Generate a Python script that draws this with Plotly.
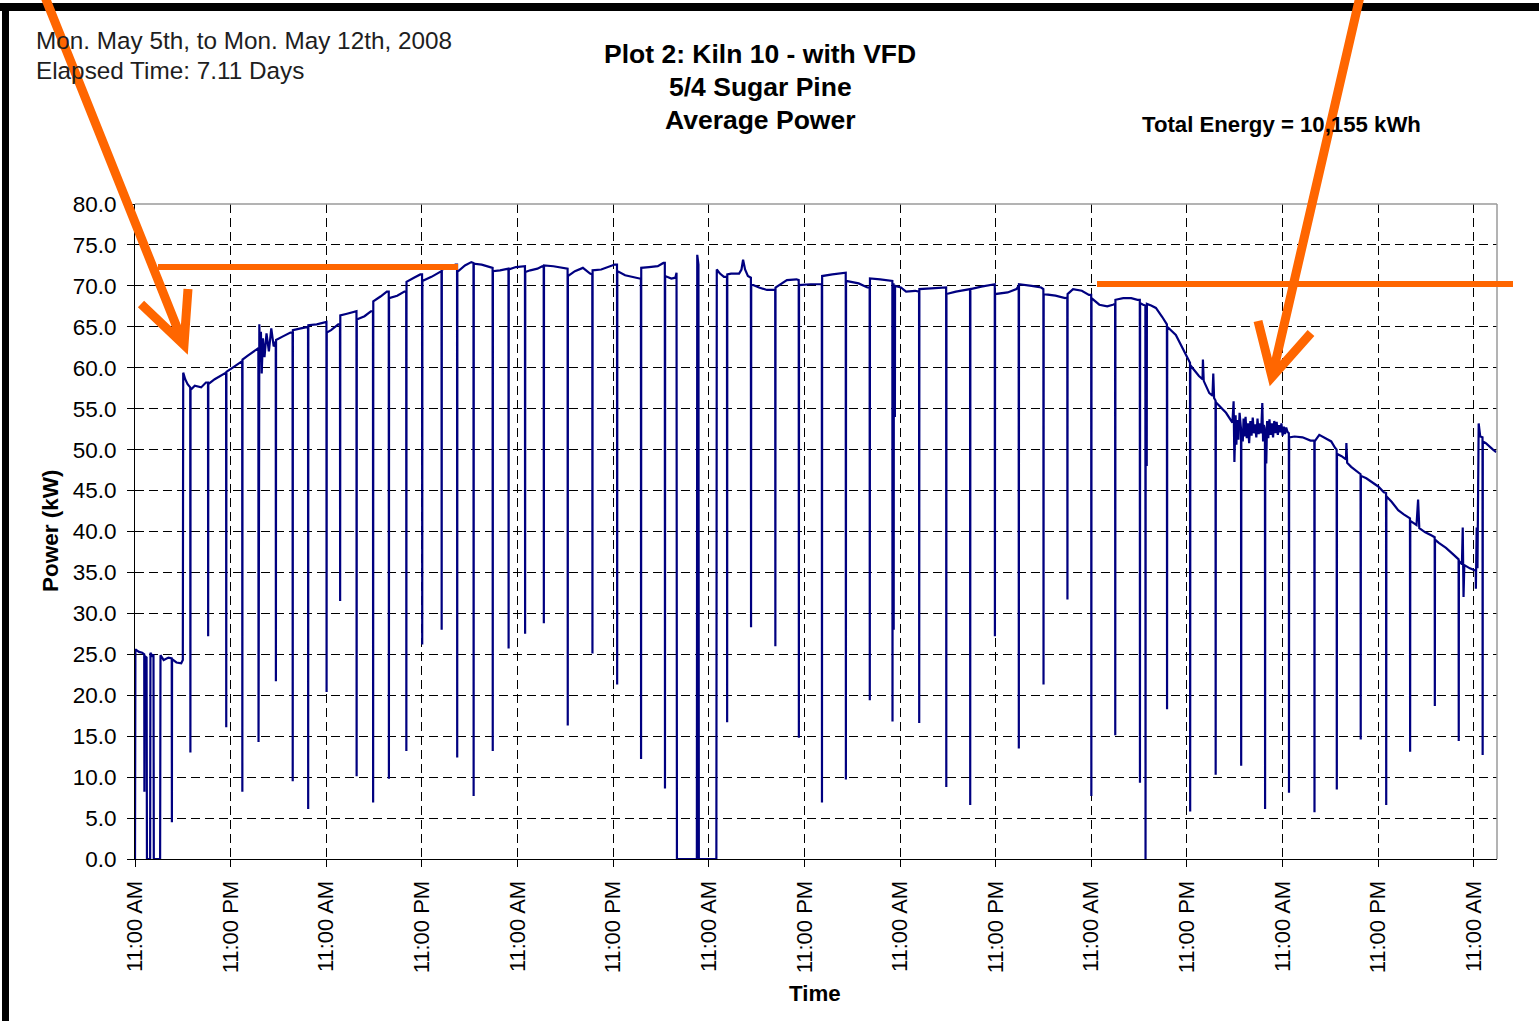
import plotly.graph_objects as go

# ---------------- data (hours since Mon 11:00 AM, kW) ----------------
base_hours = [
    0.0, 0.05, 0.5, 0.9, 1.45, 1.5, 1.9, 1.94, 2.15, 2.32, 2.36, 3.15, 3.2, 3.6, 4.2, 5.2, 5.8, 6.0, 6.02, 6.05,
    6.3, 6.6, 7.5, 8.3, 8.9, 10.0, 10.8, 12.4, 13.1, 14.2, 15.0, 15.6, 15.7, 15.8, 15.9, 16.05, 16.25, 16.5,
    16.8, 17.1, 17.4, 18.5, 19.5, 20.8, 22.8, 23.8,
    24.6, 25.5, 26.6, 27.5, 28.8, 29.6, 30.8, 31.6, 32.9, 33.8, 35.0, 35.8, 37.2, 38.2, 39.4, 40.2, 41.4, 42.2,
    43.5, 44.6, 45.8, 46.6, 47.8, 48.7,
    49.6, 50.5, 51.1, 52.5, 53.6, 54.1, 55.2, 56.2, 57.1, 58.5, 59.6, 60.2, 61.5, 62.6, 63.3, 64.5, 65.6, 66.3,
    67.3, 67.8, 67.95, 68.0, 70.5, 70.55, 70.7, 70.75, 72.95, 73.0, 73.4, 73.9,
    74.8, 75.8, 76.1, 76.3, 76.55, 76.9, 78.3, 79.3, 80.0, 81.8, 83.0, 84.8, 85.9, 87.5, 88.9, 90.8, 91.9, 93.5,
    94.8, 96.1, 96.75, 97.9,
    99.9, 101.5, 103.0, 104.5, 106.2, 107.5, 109.5, 110.6, 112.5, 113.7, 115.5, 116.7, 117.7, 118.8, 119.7,
    121.0, 122.0, 122.7,
    124.0, 125.0, 125.8, 126.5, 127.5, 128.1, 128.9, 129.4, 130.6, 131.5, 132.2, 133.5, 133.95, 134.0, 134.1,
    134.8, 135.2, 135.3, 135.4, 136.9,
    137.7, 137.85, 137.95, 138.1, 138.2, 138.3, 138.45, 138.6, 139.0, 139.1, 139.2, 139.35, 139.5, 139.65,
    139.8, 139.95, 140.1, 140.25, 140.4, 140.55, 140.7, 140.85, 141.0, 141.15, 141.3, 141.45, 141.55, 141.65,
    141.95, 142.05, 142.2, 142.35, 142.5, 142.65, 142.8, 142.95, 143.1, 143.25, 143.4, 143.55, 143.7, 143.85,
    144.0, 144.15, 144.3, 144.45, 144.6,
    145.5, 146.5, 147.5, 148.6, 149.2,
    150.1, 150.6, 151.4, 151.95, 152.0, 152.1, 152.6, 153.5, 154.5, 155.2, 156.0, 156.7, 157.7, 158.5, 159.2,
    160.8, 161.0, 161.15, 161.9, 162.7, 163.6, 164.5, 165.3, 166.5, 166.6, 166.7, 166.8, 167.5, 168.1, 168.35,
    168.45, 168.6, 168.8, 169.5, 170.0, 170.4, 170.8,
]
base_kw = [
    0.0, 25.6, 25.3, 25.2, 24.6, 0.0, 0.0, 25.2, 24.7, 25.0, 0.0, 0.0, 24.9, 24.3, 24.6, 24.0, 23.9, 24.3, 33.0, 59.4,
    58.6, 58.0, 57.8, 57.6, 58.2, 58.6, 59.1, 60.1, 60.6, 61.5, 62.0, 65.3, 60.8, 64.4, 59.3, 63.6, 61.3, 64.2,
    62.0, 64.8, 62.6, 63.8, 64.3, 64.8, 65.3, 65.6,
    64.6, 65.3, 66.6, 66.9, 66.3, 66.9, 68.7, 69.3, 68.8, 69.3, 71.0, 71.4, 71.1, 71.7, 72.2, 72.6, 72.5, 72.9,
    72.6, 72.3, 71.9, 72.1, 72.3, 72.4,
    71.9, 72.1, 72.4, 72.4, 72.2, 72.1, 71.8, 72.2, 71.5, 72.0, 72.4, 72.6, 71.3, 71.0, 70.9, 72.3, 72.4, 72.8,
    70.9, 71.0, 71.6, 0.0, 0.0, 73.8, 72.6, 0.0, 0.0, 72.0, 71.5, 71.1,
    71.5, 71.5, 72.0, 73.2, 72.0, 71.2, 69.8, 69.5, 69.5, 70.7, 70.8, 70.2, 70.2, 71.4, 71.6, 70.3, 69.8, 70.8,
    70.6, 69.8, 69.3, 69.4,
    69.7, 69.8, 69.3, 69.5, 69.9, 70.2, 69.2, 69.6, 70.0, 69.8, 68.8, 68.5, 69.6, 69.4, 68.9,
    67.7, 67.5, 67.7,
    68.5, 68.5, 68.3, 67.7, 67.6, 67.3, 66.2, 65.4, 64.0, 62.2, 60.8, 59.0, 58.6, 61.0, 58.4,
    56.9, 56.6, 59.3, 56.3, 54.5,
    53.3, 55.9, 48.5, 54.2, 50.6, 53.6, 51.2, 54.5, 51.0, 53.8, 51.6, 54.0, 51.4, 53.2,
    50.8, 53.5, 51.7, 53.9, 52.0, 53.1, 51.5, 53.8, 51.9, 53.2, 52.0, 55.7, 51.0, 53.0,
    48.3, 53.5, 51.4, 53.7, 51.8, 53.2, 51.5, 53.5, 52.0, 53.4, 51.8, 53.0, 52.1, 53.2,
    51.7, 52.8, 51.9, 52.7, 52.2,
    51.6, 51.5, 51.1, 51.8, 51.5,
    51.0, 50.2, 49.2, 48.8, 50.8, 48.4, 47.9, 47.2, 46.5, 46.0, 45.5, 44.8, 43.6, 42.6, 42.1,
    40.8, 43.9, 40.4, 39.9, 39.5, 38.6, 38.0, 37.3, 36.0, 40.5, 32.0, 35.9, 35.5, 35.2, 40.5,
    35.5, 53.2, 51.6, 50.8, 50.3, 50.0, 49.7,
]

# short dips of the kiln power (time, level before, minimum, level after)
dip_hours = [
    1.18, 4.63, 6.95, 9.18, 11.45, 13.47, 15.5, 17.68, 19.79, 21.73, 24.04,
    25.74, 27.81, 29.88, 31.86, 34.05, 36.04, 38.48, 40.43, 42.49, 44.89, 46.88, 48.95,
    51.3, 54.3, 57.4, 60.5, 63.5, 66.5, 74.3,
    77.3, 80.35, 83.3, 86.2, 89.2, 92.2, 95.05, 95.2, 95.35, 98.4,
    101.8, 104.8, 107.9, 110.9, 114.0, 117.0, 120.0, 123.0,
    126.1, 126.8, 126.95, 129.5, 132.4, 135.6, 138.8, 141.8, 144.8, 148.0,
    150.8, 153.8, 157.0, 160.0, 163.1, 166.1, 168.25, 169.1,
]
dip_pre_kw = [
    25.0, 24.5, 57.6, 58.2, 59.4, 60.8, 62.4, 63.2, 64.3, 65.0, 65.6,
    65.3, 66.9, 66.9, 69.3, 69.3, 71.4, 71.8, 72.6, 72.8, 72.2, 72.1, 72.4,
    72.3, 72.1, 71.4, 72.6, 70.9, 72.8, 71.1,
    71.0, 69.5, 70.7, 70.2, 71.6, 69.8, 70.6, 70.2, 70.0, 69.3,
    69.8, 69.6, 70.2, 70.0, 69.6, 68.6, 68.9, 67.8,
    68.3, 67.6, 67.6, 65.3, 60.6, 56.0, 52.5, 52.5, 52.0, 51.1,
    50.0, 47.0, 44.7, 41.6, 39.3, 36.6, 35.2, 51.5,
]
dip_min_kw = [
    8.2, 4.5, 13.0, 27.2, 16.1, 8.2, 14.3, 21.7, 9.5, 6.1, 20.4,
    31.5, 10.1, 6.9, 9.8, 13.2, 26.2, 28.0, 12.4, 7.7, 13.2, 25.7, 27.5,
    28.8, 16.3, 25.1, 21.3, 12.2, 8.6, 16.7,
    28.3, 26.0, 14.8, 6.9, 9.7, 19.4, 16.8, 28.0, 54.0, 16.6,
    8.8, 6.6, 27.2, 13.5, 21.3, 31.7, 7.7, 15.1,
    9.3, 0.0, 48.0, 18.3, 5.8, 10.3, 11.4, 6.1, 8.1, 5.7,
    8.5, 14.6, 6.6, 13.1, 18.7, 14.4, 33.0, 12.7,
]
dip_post_kw = [
    24.8, 24.4, 57.3, 58.0, 59.5, 61.0, 63.5, 63.4, 64.6, 65.2, 64.3,
    66.4, 65.9, 68.1, 68.5, 70.5, 70.6, 72.0, 71.7, 72.7, 71.8, 72.0, 71.7,
    72.5, 71.2, 71.9, 71.8, 72.2, 71.2, 71.4,
    70.2, 69.8, 70.1, 71.2, 70.6, 70.9, 70.2, 70.0, 70.0, 69.6,
    69.0, 69.6, 69.0, 70.2, 69.0, 69.0, 68.5, 68.3,
    67.9, 67.6, 67.8, 65.0, 60.3, 55.8, 52.5, 50.0, 51.5, 51.0,
    49.5, 46.8, 44.3, 41.3, 39.0, 36.4, 35.3, 51.0,
]

tick_hours = [0, 12, 24, 36, 48, 60, 72, 84, 96, 108, 120, 132, 144, 156, 168]
tick_labels = ["11:00 AM", "11:00 PM"] * 7 + ["11:00 AM"]
y_ticks = [0, 5, 10, 15, 20, 25, 30, 35, 40, 45, 50, 55, 60, 65, 70, 75, 80]

# ---------------- build series ----------------
pts = list(zip(base_hours, base_kw))
for t, a, m, b in zip(dip_hours, dip_pre_kw, dip_min_kw, dip_post_kw):
    pts += [(t - 0.02, a), (t, m), (t + 0.02, b)]
pts.sort(key=lambda p: p[0])
xs = [p[0] for p in pts]
ys = [p[1] for p in pts]

# ---------------- geometry helpers (page pixels -> paper) ----------------
L, R, T, B = 135, 1497, 204, 859
W, H = R - L, B - T


def px(x):
    return (x - L) / W


def py(y):
    return (B - y) / H


fig = go.Figure()
fig.add_trace(go.Scatter(x=xs, y=ys, mode="lines",
                         line=dict(color="#000080", width=2.2),
                         hoverinfo="x+y", showlegend=False))

FONT = "Liberation Sans, Arial, sans-serif"
fig.update_layout(
    width=1539, height=1021,
    margin=dict(l=L, r=1539 - R, t=T, b=1021 - B),
    paper_bgcolor="white", plot_bgcolor="white",
    font=dict(family=FONT, color="black"),
    xaxis=dict(range=[0, 170.9], tickmode="array", tickvals=tick_hours, ticktext=tick_labels,
               tickangle=-90, tickfont=dict(size=22, color="black"),
               showgrid=True, gridcolor="black", gridwidth=1, griddash="9px,5px",
               showline=True, linecolor="black", linewidth=1,
               ticks="outside", ticklen=7, tickcolor="black", zeroline=False,
               ticklabelstandoff=5),
    yaxis=dict(range=[0, 80], tickmode="array", tickvals=y_ticks,
               ticktext=[f"{v:.1f}" for v in y_ticks],
               tickfont=dict(size=22.5, color="black"),
               showgrid=True, gridcolor="black", gridwidth=1, griddash="9px,5px",
               showline=True, linecolor="black", linewidth=1,
               ticks="outside", ticklen=7, tickcolor="black", zeroline=False,
               ticklabelstandoff=6),
)

shapes = []
# plot frame top & right (grey)
shapes.append(dict(type="line", xref="paper", yref="paper", x0=0, x1=1, y0=1, y1=1,
                   line=dict(color="#9a9a9a", width=1.5)))
shapes.append(dict(type="line", xref="paper", yref="paper", x0=1, x1=1, y0=0, y1=1,
                   line=dict(color="#9a9a9a", width=1.5)))
# black page border (top and left)
shapes.append(dict(type="rect", xref="paper", yref="paper", x0=px(0), x1=px(1539), y0=py(11), y1=py(3),
                   fillcolor="black", line=dict(width=0)))
shapes.append(dict(type="rect", xref="paper", yref="paper", x0=px(2), x1=px(9), y0=py(1021), y1=py(3),
                   fillcolor="black", line=dict(width=0)))
# orange markup lines
ORANGE = "#FF6600"
shapes.append(dict(type="line", xref="paper", yref="paper", x0=px(158), x1=px(458), y0=py(267), y1=py(267),
                   line=dict(color=ORANGE, width=6)))
shapes.append(dict(type="line", xref="paper", yref="paper", x0=px(1097), x1=px(1513), y0=py(284), y1=py(284),
                   line=dict(color=ORANGE, width=6)))


def arrow_path(pts_list):
    (sx, sy), (tx, ty), (ax, ay), (bx, by) = pts_list
    return (f"M {px(sx)},{py(sy)} L {px(tx)},{py(ty)} "
            f"M {px(ax)},{py(ay)} L {px(tx)},{py(ty)} L {px(bx)},{py(by)}")


shapes.append(dict(type="path", xref="paper", yref="paper",
                   path=arrow_path([(43, -8), (184, 345), (141, 304), (188, 289)]),
                   line=dict(color=ORANGE, width=9)))
shapes.append(dict(type="path", xref="paper", yref="paper",
                   path=arrow_path([(1361, -8), (1272, 377), (1258, 321), (1311, 333)]),
                   line=dict(color=ORANGE, width=9)))
fig.update_layout(shapes=shapes)

ann = []
ann.append(dict(text="Mon. May 5th, to Mon. May 12th, 2008", x=px(34), y=py(40), xanchor="left", yanchor="middle",
                font=dict(size=24.3, color="#1e1e1e", family=FONT)))
ann.append(dict(text="Elapsed Time: 7.11 Days", x=px(34), y=py(70), xanchor="left", yanchor="middle",
                font=dict(size=24.3, color="#1e1e1e", family=FONT)))
for txt, yy in [("Plot 2: Kiln 10 - with VFD", 54), ("5/4 Sugar Pine", 87), ("Average Power", 120)]:
    ann.append(dict(text=f"<b>{txt}</b>", x=px(760), y=py(yy), xanchor="center", yanchor="middle",
                    font=dict(size=26.5, color="black", family=FONT)))
ann.append(dict(text="<b>Total Energy = 10,155 kWh</b>", x=px(1281), y=py(124), xanchor="center",
                yanchor="middle", font=dict(size=22.2, color="black", family=FONT)))
ann.append(dict(text="<b>Power (kW)</b>", x=px(50), y=py(531), xanchor="center", yanchor="middle",
                textangle=-90, font=dict(size=22.5, color="black", family=FONT)))
ann.append(dict(text="<b>Time</b>", x=px(815), y=py(993), xanchor="center", yanchor="middle",
                font=dict(size=22.3, color="black", family=FONT)))
for a in ann:
    a.update(xref="paper", yref="paper", showarrow=False)
fig.update_layout(annotations=ann)

fig.write_html("out.html", config={"displayModeBar": False},
               post_script="document.body.style.margin='0';document.body.style.overflow='hidden';")
